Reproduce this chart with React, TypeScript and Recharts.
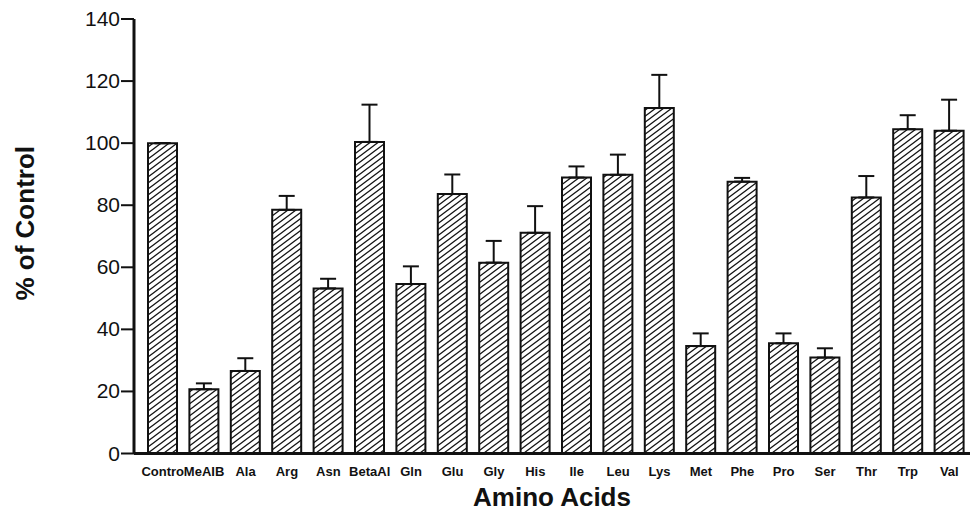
import { BarChart, Bar, XAxis, YAxis, ErrorBar, Label } from "recharts";

const categories = ["Contro", "MeAIB", "Ala", "Arg", "Asn", "BetaAl", "Gln", "Glu", "Gly", "His", "Ile", "Leu", "Lys", "Met", "Phe", "Pro", "Ser", "Thr", "Trp", "Val"];
const percentOfControl = [100, 20.7, 26.6, 78.5, 53.2, 100.4, 54.6, 83.6, 61.5, 71.1, 88.9, 89.8, 111.3, 34.6, 87.6, 35.5, 30.9, 82.5, 104.5, 104];
const sem = [0, 1.9, 4.1, 4.5, 3.1, 12.0, 5.7, 6.3, 7.0, 8.6, 3.6, 6.5, 10.7, 4.1, 1.2, 3.2, 3.0, 6.9, 4.5, 10];
const yTicks = [0, 20, 40, 60, 80, 100, 120, 140];

const data = categories.map((name, i) => ({ name, value: percentOfControl[i], sem: sem[i] }));

const FONT = '"Liberation Sans", Arial, Helvetica, sans-serif';

const XTick = ({ x, y, payload }: any) => (
  <text x={x} y={y} dy={10} textAnchor="middle" fontFamily={FONT} fontSize={13} fontWeight="bold" fill="#111">
    {payload.value}
  </text>
);

const YTick = ({ x, y, payload }: any) => (
  <text x={x} y={y} dy={7} textAnchor="end" fontFamily={FONT} fontSize={21} fill="#111">
    {payload.value}
  </text>
);

export default function App() {
  return (
    <div style={{ position: "absolute", left: 0, top: 0, width: 970, height: 513, background: "#fff" }}>
      <BarChart width={970} height={513} data={data} margin={{ top: 19, right: 0, bottom: 0, left: 0 }}>
        <defs>
          <pattern id="hatch" patternUnits="userSpaceOnUse" width={8} height={6}>
            <rect width={8} height={6} fill="#fff" />
            <path d="M0,6 L8,0 M-4,3 L4,-3 M4,9 L12,3" stroke="#111" strokeWidth={1.3} />
          </pattern>
        </defs>
        <XAxis
          dataKey="name"
          interval={0}
          height={59.5}
          tickLine={false}
          tick={<XTick />}
          tickMargin={6}
          padding={{ left: 8, right: 0 }}
          axisLine={{ stroke: "#111", strokeWidth: 3 }}
        >
          <Label value="Amino Acids" position="center" dy={14} fontFamily={FONT} fontSize={26} fontWeight="bold" fill="#111" />
        </XAxis>
        <YAxis
          width={134}
          domain={[0, 140]}
          ticks={yTicks}
          tickSize={13}
          tickMargin={1}
          tick={<YTick />}
          tickLine={{ stroke: "#111", strokeWidth: 2 }}
          axisLine={{ stroke: "#111", strokeWidth: 3 }}
        >
          <Label value="% of Control" angle={-90} position="center" dx={-42} dy={-13} fontFamily={FONT} fontSize={26} fontWeight="bold" fill="#111" />
        </YAxis>
        <Bar dataKey="value" barSize={29} fill="url(#hatch)" stroke="#111" strokeWidth={2} isAnimationActive={false}>
          <ErrorBar dataKey={(d: any) => [0, d.sem]} width={8} stroke="#111" strokeWidth={2} direction="y" isAnimationActive={false} />
        </Bar>
      </BarChart>
    </div>
  );
}
